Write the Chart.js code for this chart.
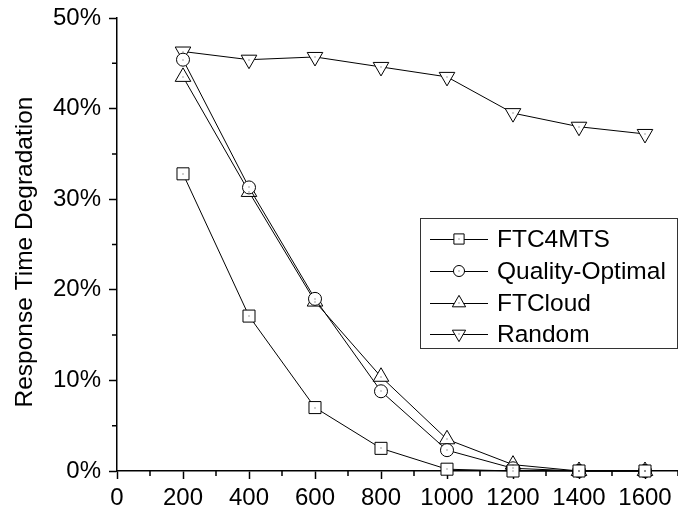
<!DOCTYPE html>
<html>
<head>
<meta charset="utf-8">
<script src="https://cdn.jsdelivr.net/npm/chart.js@4/dist/chart.umd.min.js"></script>
<style>
html,body{margin:0;padding:0;background:#fff;}
#wrap{position:relative;width:678px;height:513px;}
</style>
</head>
<body>
<div id="wrap"><canvas id="c" width="678" height="513"></canvas></div>
<script>
const categories = [200, 400, 600, 800, 1000, 1200, 1400, 1600];
const ftc4mts = [32.8, 17.1, 7.0, 2.5, 0.2, 0.0, 0.0, 0.0];
const qualityOptimal = [45.4, 31.3, 19.0, 8.8, 2.3, 0.3, 0.0, 0.0];
const ftCloud = [43.5, 30.8, 18.7, 10.4, 3.5, 0.7, 0.0, 0.0];
const random = [46.3, 45.4, 45.7, 44.6, 43.5, 39.5, 38.0, 37.2];
const seriesLabels = ['FTC4MTS', 'Quality-Optimal', 'FTCloud', 'Random'];
const xTickLabels = [0, 200, 400, 600, 800, 1000, 1200, 1400, 1600];
const yTickLabels = [0, 10, 20, 30, 40, 50];
const yTitle = 'Response Time Degradation';

const FONT = "'Liberation Sans', Arial, Helvetica, sans-serif";
Chart.defaults.font.family = FONT;
Chart.defaults.color = '#000';

const styles = [
  {pointStyle: 'rect', radius: 8.5, rotation: 0},
  {pointStyle: 'circle', radius: 6.5, rotation: 0},
  {pointStyle: 'triangle', radius: 9, rotation: 0},
  {pointStyle: 'triangle', radius: 9, rotation: 180}
];
const seriesValues = [ftc4mts, qualityOptimal, ftCloud, random];

const datasets = seriesValues.map((vals, i) => ({
  label: seriesLabels[i],
  data: categories.map((c, j) => ({x: c, y: vals[j]})),
  borderColor: '#000',
  borderWidth: 1,
  backgroundColor: '#fff',
  pointStyle: styles[i].pointStyle,
  pointRadius: styles[i].radius,
  pointRotation: styles[i].rotation,
  pointBorderColor: '#000',
  pointBorderWidth: 1,
  pointBackgroundColor: '#fff',
  tension: 0,
  clip: false,
  fill: false
}));

function drawMarker(ctx, style, x, y) {
  const opts = {pointStyle: style.pointStyle, radius: style.radius, rotation: style.rotation, borderWidth: 1};
  ctx.save();
  ctx.fillStyle = '#fff';
  ctx.strokeStyle = '#000';
  ctx.lineWidth = 1;
  Chart.helpers.drawPoint(ctx, opts, x, y);
  ctx.restore();
}

const extras = {
  id: 'extras',
  afterDatasetsDraw(chart) {
    const ctx = chart.ctx;
    ctx.save();
    ctx.fillStyle = '#444';
    chart.data.datasets.forEach((ds, i) => {
      const meta = chart.getDatasetMeta(i);
      meta.data.forEach(pt => { ctx.fillRect(Math.round(pt.x) - 0.5, Math.round(pt.y) - 0.5, 1, 1); });
    });
    ctx.restore();
  },
  afterDraw(chart) {
    const ctx = chart.ctx;
    const xs = chart.scales.x, ys = chart.scales.y;
    ctx.save();
    ctx.strokeStyle = '#000';
    ctx.lineWidth = 1.5;
    ctx.beginPath();
    for (let v = 100; v <= 1700; v += 200) {
      const px = xs.getPixelForValue(v);
      ctx.moveTo(px, ys.bottom); ctx.lineTo(px, ys.bottom + 5);
    }
    for (let v = 5; v <= 45; v += 10) {
      const py = ys.getPixelForValue(v);
      ctx.moveTo(xs.left, py); ctx.lineTo(xs.left - 5, py);
    }
    ctx.stroke();
    ctx.restore();

    // y axis title
    ctx.save();
    ctx.translate(25, 252);
    ctx.rotate(-Math.PI / 2);
    ctx.font = '24.5px ' + FONT;
    ctx.fillStyle = '#000';
    ctx.textAlign = 'center';
    ctx.textBaseline = 'middle';
    ctx.fillText(yTitle, 0, 0);
    ctx.restore();

    // legend
    const bx = 420, by = 218, bw = 257, bh = 130;
    ctx.save();
    ctx.strokeStyle = '#333';
    ctx.lineWidth = 1;
    ctx.strokeRect(bx + 0.5, by + 0.5, bw, bh);
    ctx.font = '24.5px ' + FONT;
    ctx.fillStyle = '#000';
    ctx.textBaseline = 'middle';
    const rowY = [239, 271, 303, 334];
    chart.data.datasets.forEach((ds, i) => {
      const y = rowY[i];
      ctx.beginPath();
      ctx.strokeStyle = '#000';
      ctx.lineWidth = 1;
      ctx.moveTo(430, y + 0.5); ctx.lineTo(488, y + 0.5);
      ctx.stroke();
      const st = Object.assign({}, styles[i]);
      st.radius = st.radius * 0.85;
      drawMarker(ctx, st, 459, y);
      ctx.fillStyle = '#444';
      ctx.fillRect(458.5, y - 0.5, 1, 1);
      ctx.fillStyle = '#000';
      ctx.fillText(ds.label, 497, y + 1);
    });
    ctx.restore();
  }
};

new Chart(document.getElementById('c'), {
  type: 'line',
  data: {datasets},
  options: {
    responsive: false,
    animation: false,
    devicePixelRatio: 1,
    layout: {padding: {top: 18, right: 0, left: 0, bottom: 0}, autoPadding: false},
    plugins: {legend: {display: false}, tooltip: {enabled: false}},
    scales: {
      x: {
        type: 'linear',
        min: 0, max: 1700,
        afterFit(s) { s.height = 42; s.paddingLeft = 0; s.paddingRight = 0; },
        border: {display: true, color: '#000', width: 1.5},
        grid: {display: true, drawOnChartArea: false, drawTicks: true, tickLength: 8, tickColor: '#000', tickWidth: 1.5},
        ticks: {
          stepSize: 200, includeBounds: false, autoSkip: false, maxRotation: 0,
          font: {size: 24}, color: '#000', padding: 5,
          callback: v => xTickLabels.includes(v) ? String(v) : ''
        }
      },
      y: {
        min: 0, max: 50,
        afterFit(s) { s.width = 117; s.paddingTop = 0; s.paddingBottom = 0; },
        border: {display: true, color: '#000', width: 1.5},
        grid: {display: true, drawOnChartArea: false, drawTicks: true, tickLength: 8, tickColor: '#000', tickWidth: 1.5},
        ticks: {
          stepSize: 10, font: {size: 24}, color: '#000', padding: 8,
          callback: v => yTickLabels.includes(v) ? v + '%' : ''
        }
      }
    }
  },
  plugins: [extras]
});
</script>
</body>
</html>
